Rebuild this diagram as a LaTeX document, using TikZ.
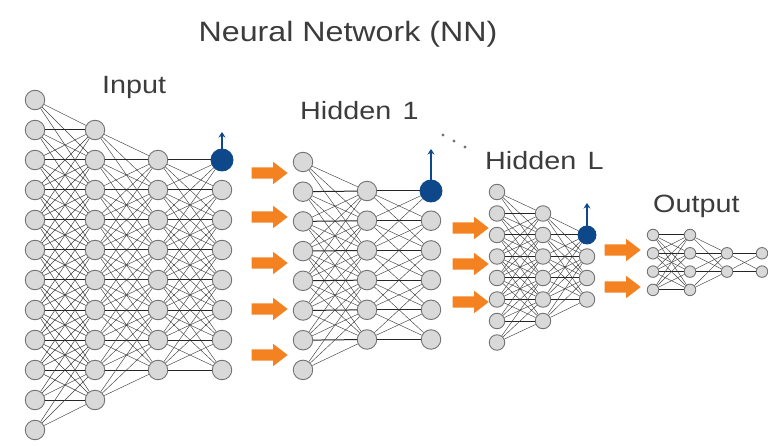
\documentclass[tikz,border=0pt]{standalone}
\usepackage{fontspec}
\setmainfont{Liberation Sans}[FakeStretch=1.15]
\usetikzlibrary{arrows.meta,shapes.arrows}
\definecolor{flowc}{RGB}{245,130,32}
\definecolor{activec}{RGB}{14,72,138}
\definecolor{unitc}{RGB}{217,217,217}
\definecolor{textc}{RGB}{60,60,60}

% links between two columns: from, to, n from, n to, row offset, window
\newcommand{\connectlayers}[6]{%
  \foreach \i in {1,...,#3}{
    \foreach \j in {1,...,#4}{
      \pgfmathtruncatemacro\gap{abs(\i-\j-(#5))}
      \ifnum\gap>#6\relax\else
        \ifnum\gap=0
          \draw[mainlink] (#1-\i) -- (#2-\j);
        \else
          \draw[link] (#1-\i) -- (#2-\j);
        \fi
      \fi
    }
  }%
}

\begin{document}
\begin{tikzpicture}[
    x=1pt, y=-1pt,
    unit/.style={circle, draw=black!55, line width=0.9pt, fill=unitc,
                 inner sep=0pt, minimum size=#1},
    unit/.default=19.5pt,
    active/.style={fill=activec, draw=activec},
    link/.style={black!75, line width=0.45pt},
    mainlink/.style={black!85, line width=1pt},
    up/.style={-{Stealth[length=5.5pt, width=7pt]}, activec, line width=1.4pt},
    flow/.style={single arrow, fill=flowc, draw=none, inner xsep=0pt,
                 inner ysep=5.5pt, single arrow head extend=5.5pt,
                 single arrow tip angle=75, minimum height=36pt},
    lbl/.style={font=\fontsize{25}{30}\selectfont, text=textc, anchor=base west, inner sep=0pt},
  ]
  \useasboundingbox (0,0) rectangle (768,446);

  % Title
  \node[font=\fontsize{28}{32}\selectfont, text=textc, anchor=base, inner sep=0pt]
    (title) at (348,42) {Neural Network (NN)};

  % Input block
  \node[lbl] (in-lbl) at (102,94) {Input};
  \foreach \n in {1,...,12} \node[unit] (in-a-\n) at (35,{100+30*(\n-1)}) {};
  \foreach \n in {1,...,10} \node[unit] (in-b-\n) at (95,{130+30*(\n-1)}) {};
  \foreach \n in {1,...,8}  \node[unit] (in-c-\n) at (158,{160+30*(\n-1)}) {};
  \node[unit=22pt, active] (in-d-1) at (222,160) {};
  \foreach \n in {2,...,8}  \node[unit] (in-d-\n) at (222,{160+30*(\n-1)}) {};
  \connectlayers{in-a}{in-b}{12}{10}{1}{3}
  \connectlayers{in-b}{in-c}{10}{8}{1}{3}
  \connectlayers{in-c}{in-d}{8}{8}{0}{3}
  \coordinate (in-up) at (222,132);
  \draw[up] (in-d-1) -- (in-up);

  % Input -> Hidden 1
  \foreach \y [count=\n] in {173,217,263,309,355}
    \node[flow] (f1-\n) at (266,\y) {};

  % Hidden 1 block
  \node[lbl] (h1-lbl) at (300,120) {Hidden\hspace{0.45em}1};
  \foreach \n in {1,...,8} \node[unit] (h1-a-\n) at (303,{162+29.7*(\n-1)}) {};
  \foreach \n in {1,...,6} \node[unit] (h1-b-\n) at (367,{191+29.7*(\n-1)}) {};
  \node[unit=22pt, active] (h1-c-1) at (431,191) {};
  \foreach \n in {2,...,6} \node[unit] (h1-c-\n) at (431,{191+29.7*(\n-1)}) {};
  \connectlayers{h1-a}{h1-b}{8}{6}{1}{3}
  \connectlayers{h1-b}{h1-c}{6}{6}{0}{2}
  \coordinate (h1-up) at (431,149);
  \draw[up] (h1-c-1) -- (h1-up);

  % dots towards Hidden L
  \foreach \x/\y in {443/135,454/141,465/147}
    \fill[black!55] (\x,\y) circle (1.6pt);

  % Hidden 1 -> Hidden L
  \foreach \y [count=\n] in {228,264,302}
    \node[flow] (f2-\n) at (467,\y) {};

  % Hidden L block
  \node[lbl] (hl-lbl) at (485,170) {Hidden\hspace{0.45em}L};
  \foreach \n in {1,...,8} \node[unit=15.5pt] (hl-a-\n) at (497,{192+21.5*(\n-1)}) {};
  \foreach \n in {1,...,6} \node[unit=15.5pt] (hl-b-\n) at (543,{213.5+21.5*(\n-1)}) {};
  \node[unit=18pt, active] (hl-c-1) at (587,235) {};
  \foreach \n in {2,...,4} \node[unit=15.5pt] (hl-c-\n) at (587,{235+21.5*(\n-1)}) {};
  \connectlayers{hl-a}{hl-b}{8}{6}{1}{3}
  \connectlayers{hl-b}{hl-c}{6}{4}{1}{3}
  \coordinate (hl-up) at (587,203);
  \draw[up] (hl-c-1) -- (hl-up);

  % Hidden L -> Output
  \foreach \y [count=\n] in {250,287}
    \node[flow] (f3-\n) at (619,\y) {};

  % Output block
  \node[lbl] (out-lbl) at (653,213) {Output};
  \foreach \n in {1,...,4} \node[unit=11.5pt] (out-a-\n) at (653,{235+18.3*(\n-1)}) {};
  \foreach \n in {1,...,4} \node[unit=11.5pt] (out-b-\n) at (690,{235+18.3*(\n-1)}) {};
  \foreach \n in {1,2}     \node[unit=11.5pt] (out-c-\n) at (727,{253.3+18.3*(\n-1)}) {};
  \foreach \n in {1,2}     \node[unit=11.5pt] (out-d-\n) at (762,{253.3+18.3*(\n-1)}) {};
  \connectlayers{out-a}{out-b}{4}{4}{0}{5}
  \connectlayers{out-b}{out-c}{4}{2}{1}{5}
  \connectlayers{out-c}{out-d}{2}{2}{0}{5}
\end{tikzpicture}
\end{document}
